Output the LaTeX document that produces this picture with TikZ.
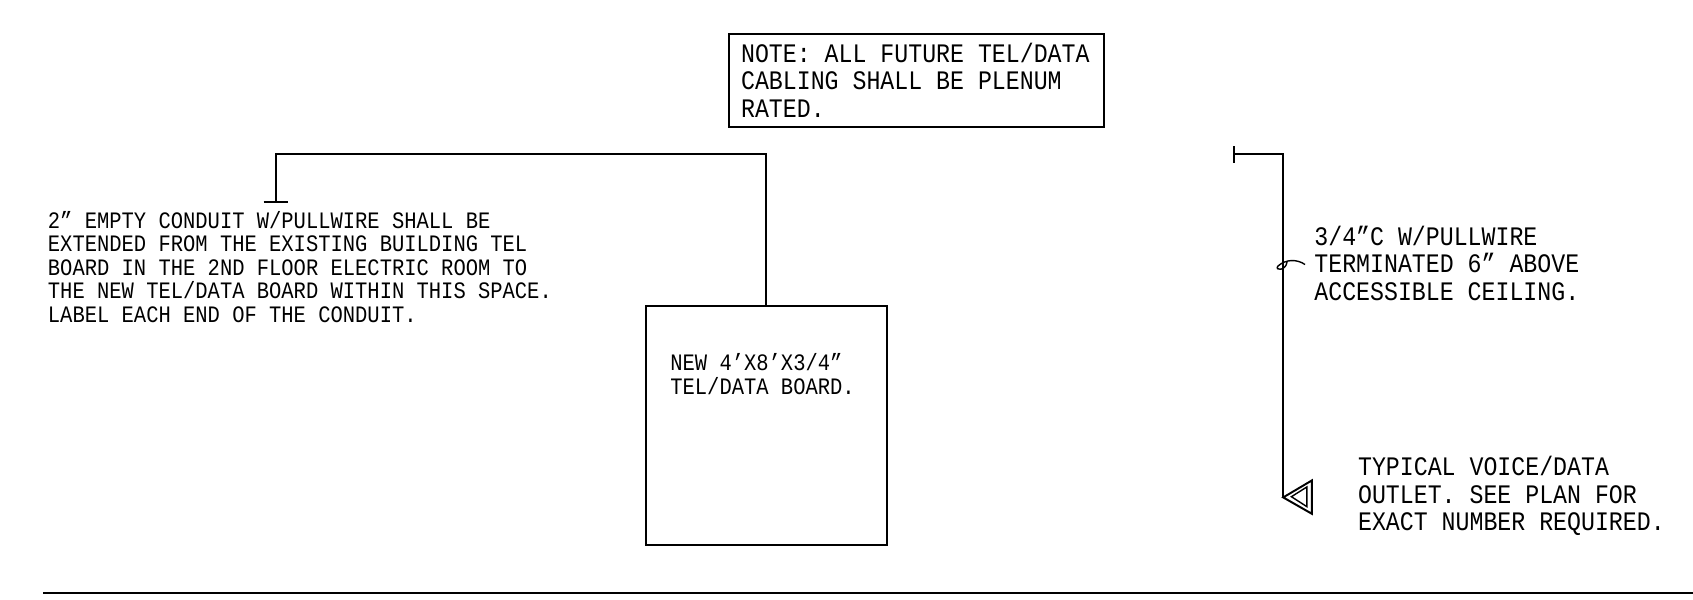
\documentclass[tikz,border=0pt]{standalone}
\usepackage{fontspec}
\setmainfont[FakeStretch=.87]{Liberation Mono}
\usetikzlibrary{calc}
\tikzset{
  wire/.style={black,line width=1.1pt,line join=miter},
  smalltxt/.style={anchor=north west,inner sep=0,align=left,font=\fontsize{13.4}{13.3}\selectfont},
  bigtxt/.style={anchor=north west,inner sep=0,align=left,font=\fontsize{15.2}{15.7}\selectfont},
  boxed/.style={draw,wire,inner sep=0,minimum width=#1}
}
\begin{document}
\begin{tikzpicture}[x=.02cm,y=-.02cm]
\useasboundingbox (0,0) rectangle (1693,599);
% note and board
\node[boxed=7.5cm,minimum height=1.854cm] (note) at (916.2,80.4) {};
\node[bigtxt] (notetxt) at (740.7,42.5) {NOTE: ALL FUTURE TEL/DATA\\CABLING SHALL BE PLENUM\\RATED.};
\node[boxed=4.814cm,minimum height=4.78cm] (board) at (766.35,425.5) {};
\node[smalltxt] (boardtxt) at (670,353.5) {NEW 4'X8'X3/4"\\TEL/DATA BOARD.};
% left conduit
\coordinate (lcorner) at (276.4,154.4);
\coordinate (lend) at (276.4,201.9);
\coordinate (lbara) at (263.5,201.9);
\coordinate (lbarb) at (288.3,201.9);
\draw[wire] (board.north) |- (lcorner) -- (lend);
\draw[wire] (lbara) -- (lbarb);
\node[smalltxt] (condtxt) at (47.6,211.2) {2" EMPTY CONDUIT W/PULLWIRE SHALL BE\\EXTENDED FROM THE EXISTING BUILDING TEL\\BOARD IN THE 2ND FLOOR ELECTRIC ROOM TO\\THE NEW TEL/DATA BOARD WITHIN THIS SPACE.\\LABEL EACH END OF THE CONDUIT.};
% right conduit and outlet
\coordinate (rstart) at (1233.7,154.4);
\coordinate (rcorner) at (1283.2,154.4);
\coordinate (outlet) at (1283.2,497.4);
\coordinate (rbara) at (1233.7,146);
\coordinate (rbarb) at (1233.7,163);
\draw[wire] (rstart) -- (rcorner) -- (outlet);
\draw[wire] (rbara) -- (rbarb);
\draw[wire] (outlet) -- (1311.9,480.4) -- (1311.9,513.8) -- cycle;
\draw[wire,line width=.8pt] (1291.4,496.7) -- (1306.8,487) -- (1306.8,506.6) -- cycle;
\draw[wire,line width=.8pt] (1305,264.5) .. controls (1297,259) and (1286,259) .. (1278,266) .. controls (1274,271) and (1286,271) .. (1287,262);
\node[bigtxt] (pulltxt) at (1314,225.7) {3/4"C W/PULLWIRE\\TERMINATED 6" ABOVE\\ACCESSIBLE CEILING.};
\node[bigtxt] (outlettxt) at (1357.7,456) {TYPICAL VOICE/DATA\\OUTLET. SEE PLAN FOR\\EXACT NUMBER REQUIRED.};
% bottom line
\coordinate (basea) at (43,593);
\coordinate (baseb) at (1693,593);
\draw[wire] (basea) -- (baseb);
\end{tikzpicture}
\end{document}
